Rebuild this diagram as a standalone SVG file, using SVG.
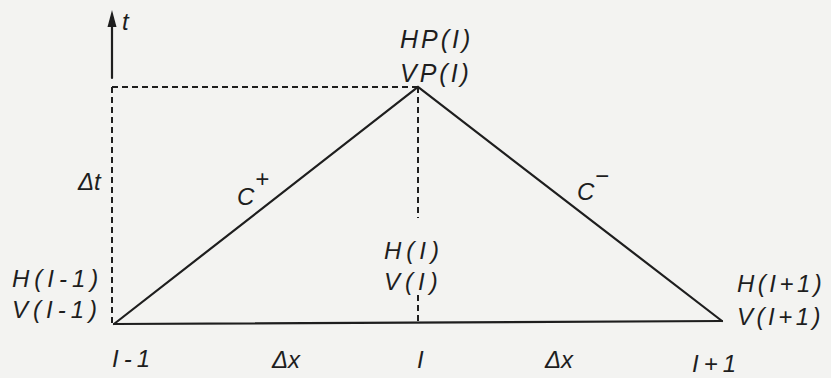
<svg xmlns="http://www.w3.org/2000/svg" width="831" height="378" viewBox="0 0 831 378">
<style>
.bg{fill:#f3f3f1}
.solid{stroke:#1e1e1e;stroke-width:2.2;fill:none;stroke-linecap:round}
.dash{stroke:#1e1e1e;stroke-width:2;fill:none;stroke-dasharray:6 4}
.head{fill:#1e1e1e}
text{font-family:"Liberation Sans",Arial,sans-serif;font-style:italic;fill:#1e1e1e;font-size:24px}
.lab{letter-spacing:5px}
.rlab{letter-spacing:3.5px}
.big{font-size:25px;letter-spacing:3px}
</style>
<rect class="bg" x="0" y="0" width="831" height="378"/>
<g id="connectors">
<line class="solid" x1="112" y1="78" x2="112" y2="22"/>
<polygon class="head" points="112,10 107.5,27 116.5,27"/>
<path class="dash" d="M112,87 L112,324"/>
<path class="dash" d="M112,87 L418,87"/>
<path class="dash" d="M418,87 L418,218"/>
<path class="dash" d="M418,295 L418,322"/>
<path class="solid" d="M114,324 L418,87 L722,321"/>
<path class="solid" d="M114,324 L722,321"/>
</g>
<g id="axis-t"><text x="122" y="30" font-size="26">t</text></g>
<g id="node-top"><text class="big" x="400" y="48">HP(I)</text><text class="big" x="400" y="82">VP(I)</text></g>
<g id="label-dt"><text x="78" y="190">Δt</text></g>
<g id="label-cplus"><text x="237" y="205">C</text><text x="255" y="187" font-size="17">+</text></g>
<g id="label-cminus"><text x="577" y="200">C</text><text x="595" y="184" font-size="17">−</text></g>
<g id="node-mid"><text class="lab" x="384" y="259">H(I)</text><text class="lab" x="384" y="290">V(I)</text></g>
<g id="node-left"><text class="lab" x="12" y="287">H(I-1)</text><text class="lab" x="12" y="318">V(I-1)</text></g>
<g id="node-right"><text class="rlab" x="737" y="292">H(I+1)</text><text class="rlab" x="737" y="325">V(I+1)</text></g>
<g id="axis-labels">
<text class="lab" x="112" y="367">I-1</text>
<text x="272" y="368">Δx</text>
<text x="417" y="368">I</text>
<text x="545" y="368">Δx</text>
<text class="lab" x="692" y="372">I+1</text>
</g>
</svg>
